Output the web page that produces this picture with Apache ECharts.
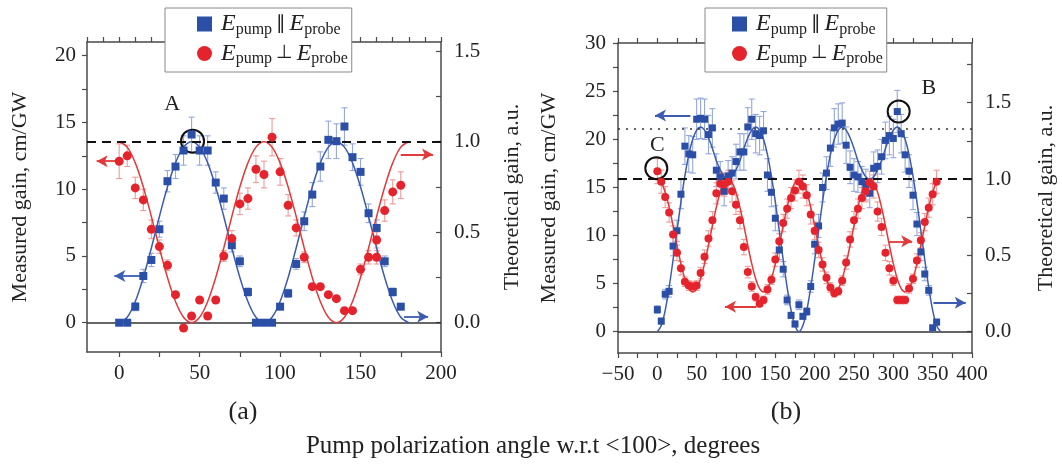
<!DOCTYPE html>
<html><head><meta charset="utf-8">
<script src="https://cdn.jsdelivr.net/npm/echarts@6/dist/echarts.min.js"></script>
<style>html,body{margin:0;padding:0;background:#fff}#c{width:1062px;height:464px}</style>
</head><body><div id="c"></div>
<script>
// ---------- Panel (a) data ----------
const A_ANGLES = [0,5,10,15,20,25,30,35,40,45,50,55,60,65,70,75,80,85,90,95,100,105,110,115,120,125,130,135,140,145,150,155,160,165,170,175];
const A_PAR = [0,0,1.2,3.5,4.7,7.0,10.6,11.7,12.9,14.1,12.9,12.9,10.5,9.3,5.8,4.6,2.3,0,0,0,1.2,2.2,4.4,7.6,9.6,11.7,13.7,13.6,14.7,12.4,11.3,8.2,7.1,4.6,2.3,1.2];
const A_PAR_ERR = [0,0,0.3,0.5,0.5,0.6,0.8,0.9,1.1,1.3,1.1,1.1,0.8,0.8,0.5,0.4,0.3,0,0,0,0.2,0.3,0.4,0.7,0.9,1.1,1.4,1.3,1.4,1.0,1.0,0.7,0.6,0.4,0.3,0.2];
const A_PERP_X = [0,5,10,15,20,25,30,35,40,45,50,55,60,65,70,75,80,85,90,95,100,105,110,115,120,125,130,135,140,145,150,155,160,160,165,170,175];
const A_PERP = [12.1,12.5,10.1,9.2,7.0,5.7,4.3,2.1,-0.4,0.5,1.7,0.5,1.7,5.0,6.3,8.9,9.3,11.5,11.1,13.9,11.3,8.8,7.1,4.9,2.7,2.7,2.1,1.8,0.9,0.9,4.0,4.9,4.9,6.2,8.4,9.8,10.3];
const A_PERP_ERR = [1.3,0.8,0.8,0.8,0.7,0.5,0.4,0,0,0,0,0,0,0.4,0.6,0.8,0.8,1.0,1.0,1.4,1.0,0.8,0.6,0.4,0,0,0,0,0,0,0.4,0.5,0.5,0.6,0.8,0.9,1.0];
const A_TH_X = [0,5,10,15,20,25,30,35,40,45,50,55,60,65,70,75,80,85,90,95,100,105,110,115,120,125,130,135,140,145,150,155,160,165,170,175,180];
const A_TH_PAR = [0,.03,.117,.25,.413,.587,.75,.883,.97,1,.97,.883,.75,.587,.413,.25,.117,.03,0,.03,.117,.25,.413,.587,.75,.883,.97,1,.97,.883,.75,.587,.413,.25,.117,.03,0];
const A_TH_PERP = [1,.97,.883,.75,.587,.413,.25,.117,.03,0,.03,.117,.25,.413,.587,.75,.883,.97,1,.97,.883,.75,.587,.413,.25,.117,.03,0,.03,.117,.25,.413,.587,.75,.883,.97,1];

// ---------- Panel (b) data ----------
const B_ANGLES = [0,5,10,15,20,25,30,35,40,45,50,55,60,65,70,75,80,85,90,95,100,105,110,115,120,125,130,135,140,145,150,155,160,165,170,175,180,185,190,195,200,205,210,215,220,225,230,235,240,245,250,255,260,265,270,275,280,285,290,295,300,305,310,315,320,325,330,335,340,345,350,355];
const B_PAR = [2.3,1.1,3.9,4.2,8.9,10.5,14.3,19.3,18.5,18.4, 22.1,22.2,22.1,20.5,21.2,16.8,16.1,14.6,16.2,16.5, 17.7,18.7,18.7,21.3,22.1,20.6,20.4,20.9,16.3,14.5, 11.8,8.5,6.5,3.3,1.7,0.8,2.8,1.6,2.1,4.7, 9.1,11.0,15.0,16.5,19.1,21.2,21.6,21.7,19.4,17.1, 16.3,16.1,15.6,15.3,14.4,17.0,17.2,18.2,19.9,20.4, 20.1,22.9,20.6,18.4,16.7,14.2,11.2,8.3,6.0,4.3, 0.4,1.0];
const B_PAR_ERR = [0.4,0.3,0.5,0.6,1.0,1.1,1.5,1.9,1.9,1.9, 2.1,2.1,2.1,2.0,2.0,1.7,1.6,1.5,1.6,1.7, 1.8,1.9,1.9,2.0,2.1,2.0,2.0,2.0,1.7,1.5, 1.3,1.0,0.8,0.5,0.3,0.3,0.5,0.3,0.4,0.6, 1.0,1.2,1.5,1.7,1.9,2.0,2.1,2.1,1.9,1.7, 1.7,1.6,1.6,1.6,1.5,1.7,1.7,1.8,1.9,2.0, 2.0,2.2,2.0,1.8,1.7,1.5,1.2,0.9,0.7,0.5, 0.3,0.3];
const B_PERP = [16.7,15.6,14.0,12.4,10.1,8.2,6.6,5.2,4.8,4.7, 4.8,6.1,7.8,9.7,11.6,14.4,15.4,15.3,15.6,14.6, 13.2,11.6,8.8,6.2,4.7,3.6,2.9,3.3,4.4,5.4, 7.5,9.4,11.3,12.8,13.9,14.7,15.6,15.1,14.2,12.2, 10.5,8.5,7.0,5.6,4.6,4.0,4.2,5.3,7.2,9.6, 11.6,12.8,13.9,14.6,15.5,15.1,12.5,10.9,8.2,6.6, 5.3,3.3,3.3,3.3,4.5,5.5,7.4,9.5,11.4,12.9, 14.3,15.6];
const B_PERP_ERR = [1.3,1.2,1.1,1.0,0.9,0.8,0.7,0.5,0.5,0.5, 0.5,0.6,0.7,0.8,0.9,1.1,1.2,1.2,1.2,1.1, 1.0,0.9,0.8,0.6,0.5,0.4,0.3,0.4,0.5,0.5, 0.7,0.8,0.9,1.0,1.1,1.1,1.2,1.2,1.1,1.0, 0.9,0.8,0.7,0.6,0.5,0.4,0.4,0.5,0.7,0.8, 0.9,1.0,1.1,1.1,1.2,1.2,1.0,0.9,0.8,0.7, 0.5,0.4,0.4,0.4,0.5,0.5,0.7,0.8,0.9,1.0, 1.1,1.2];
const B_TH_X = [0,5,10,15,20,25,30,35,40,45,50,55,60,65,70,75,80,85,90,95,100,105,110,115,120,125,130,135,140,145,150,155,160,165,170,175,180,185,190,195,200,205,210,215,220,225,230,235,240,245,250,255,260,265,270,275,280,285,290,295,300,305,310,315,320,325,330,335,340,345,350,355,360];
const B_TH_PAR = [0,.04,.14,.29,.47,.66,.85,1.02,1.16,1.26,1.32,1.34,1.32,1.27,1.2,1.12,1.06,1.015,1.0,1.015,1.06,1.12,1.2,1.27,1.32,1.34,1.32,1.26,1.16,1.02,.85,.66,.47,.29,.14,.04,
  0,.04,.14,.29,.47,.66,.85,1.02,1.16,1.26,1.32,1.34,1.32,1.27,1.2,1.12,1.06,1.015,1.0,1.015,1.06,1.12,1.2,1.27,1.32,1.34,1.32,1.26,1.16,1.02,.85,.66,.47,.29,.14,.04,0];
const B_TH_PERP = [1,.978,.913,.815,.694,.566,.445,.347,.282,.26,.282,.347,.445,.566,.694,.815,.913,.978,
  1,.978,.913,.815,.694,.566,.445,.347,.282,.26,.282,.347,.445,.566,.694,.815,.913,.978,
  1,.978,.913,.815,.694,.566,.445,.347,.282,.26,.282,.347,.445,.566,.694,.815,.913,.978,
  1,.978,.913,.815,.694,.566,.445,.347,.282,.26,.282,.347,.445,.566,.694,.815,.913,.978,1];

// ---------- tick values ----------
const A_X_LABELS = [0,50,100,150,200];
const A_X_TICKS = [0,25,50,75,100,125,150,175,200];
const A_X_TOP_TICKS = [-20,-10,0,10,20,30,40,50,60,70,80,90,100,110,120,130,140,150,160,170,180,190,200];
const A_Y_LABELS = [0,5,10,15,20];
const A_Y_TICKS = [0,2.5,5,7.5,10,12.5,15,17.5,20];
const A_Y2_LABELS = [0,0.5,1.0,1.5];
const A_Y2_TICKS = [0,0.25,0.5,0.75,1.0,1.25,1.5];
const B_X_LABELS = [-50,0,50,100,150,200,250,300,350,400];
const B_X_TICKS = [-50,-25,0,25,50,75,100,125,150,175,200,225,250,275,300,325,350,375,400];
const B_Y_LABELS = [0,5,10,15,20,25,30];
const B_Y_TICKS = [0,2.5,5,7.5,10,12.5,15,17.5,20,22.5,25,27.5,30];
const B_Y2_LABELS = [0,0.5,1.0,1.5];
const B_Y2_TICKS = [0,0.25,0.5,0.75,1.0,1.25,1.5,1.75];

const SERIF = '"Liberation Serif","DejaVu Serif",serif';
const BLUE = '#2b4ea6', BLUE_LINE = '#3c5cb2', BLUE_ERR = '#94a8da';
const RED = '#e5232c', RED_LINE = '#e23a3a', RED_ERR = '#f09a9a';
const AXIS_C = '#4a4a4a', TXT = '#222';

function pairs(xs, ys){ return xs.map((x,i)=>[x, ys[i]]); }
function errSeries(xs, ys, es, xi, yi, color){
  return {type:'custom', xAxisIndex:xi, yAxisIndex:yi, silent:true, z:2,
    data: xs.map((x,i)=>[x, ys[i], es[i]]),
    renderItem:(params, api)=>{
      const x=api.value(0), y=api.value(1), e=api.value(2);
      if(!e) return null;
      const t=api.coord([x,y+e]), b=api.coord([x,y-e]), w=3;
      const st={stroke:color, lineWidth:1.1};
      return {type:'group', children:[
        {type:'line', shape:{x1:t[0],y1:t[1],x2:b[0],y2:b[1]}, style:st},
        {type:'line', shape:{x1:t[0]-w,y1:t[1],x2:t[0]+w,y2:t[1]}, style:st},
        {type:'line', shape:{x1:b[0]-w,y1:b[1],x2:b[0]+w,y2:b[1]}, style:st}
      ]};
    }};
}
function arrow(x1,y1,x2,y2,color){
  return [{coord:[x1,y1], symbol:'none', lineStyle:{color, width:1.8, type:'solid'}},{coord:[x2,y2], symbol:'arrow', symbolSize:[9,11]}];
}
function ring(x,y,size){
  return {coord:[x,y], symbol:'circle', symbolSize:size, itemStyle:{color:'rgba(0,0,0,0)', borderColor:'#111', borderWidth:2}, label:{show:false}};
}
function letter(x,y,t){
  return {coord:[x,y], symbol:'circle', symbolSize:1, itemStyle:{color:'rgba(0,0,0,0)'},
    label:{show:true, position:'inside', formatter:t, fontFamily:SERIF, fontSize:22, color:TXT}};
}
const axisTxt = {fontFamily:SERIF, fontSize:21, color:TXT};
function xAx(grid, min, max, labels, ticks, pos, showLabels){
  return {type:'value', gridIndex:grid, min, max, position:pos,
    axisLine:{show:true, onZero:false, lineStyle:{color:AXIS_C, width:1.5}},
    axisTick:{show:true, inside:false, length:5, customValues:ticks, lineStyle:{color:AXIS_C, width:1.2}},
    axisLabel:{show:showLabels, customValues:labels, margin:11, ...axisTxt,
      formatter:v=> v<0 ? '\u2212'+Math.abs(v) : String(v)},
    splitLine:{show:false}};
}
function yAx(grid, min, max, labels, ticks, pos, inside, fmt, margin){
  return {type:'value', gridIndex:grid, min, max, position:pos,
    axisLine:{show:true, onZero:false, lineStyle:{color:AXIS_C, width:1.5}},
    axisTick:{show:true, inside, length:5, customValues:ticks, lineStyle:{color:AXIS_C, width:1.2}},
    axisLabel:{show:true, customValues:labels, margin, ...axisTxt, formatter:fmt},
    splitLine:{show:false}};
}
const richLegend = {
  g:{width:4},
  e:{fontFamily:SERIF, fontStyle:'italic', fontSize:24, color:TXT},
  s:{fontFamily:SERIF, fontSize:16, color:TXT, padding:[11,0,0,0]},
  o:{fontFamily:'"DejaVu Sans",sans-serif', fontSize:19, color:TXT, padding:[0,4,0,4]}
};
function legendFmt(n){
  return n==='par' ? '{g|}{e|E}{s|pump}{o|\u2225}{e|E}{s|probe}' : '{g|}{e|E}{s|pump}{o|\u22A5}{e|E}{s|probe}';
}
function mkLegend(left, padL){
  return {left, top:8, orient:'vertical', selectedMode:false,
    data:[{name:'par', icon:'rect'},{name:'perp', icon:'circle'}],
    itemWidth:15, itemHeight:15, itemGap:4, padding:[4,4,5,padL],
    backgroundColor:'#fff', borderColor:'#888', borderWidth:1,
    formatter:legendFmt, textStyle:{rich:richLegend, fontFamily:SERIF, fontSize:22, color:TXT}};
}

const option = {
  animation:false, backgroundColor:'#fff',
  grid:[
    {left:87, top:42, width:354, height:310, show:false},
    {left:618, top:43, width:354, height:310, show:false}
  ],
  xAxis:[
    xAx(0,-20,200,A_X_LABELS,A_X_TICKS,'bottom',true),
    xAx(0,-20,200,[],A_X_TOP_TICKS,'top',false),
    xAx(1,-50,400,B_X_LABELS,B_X_TICKS,'bottom',true),
    xAx(1,-50,400,[],B_X_TICKS,'top',false)
  ],
  yAxis:[
    yAx(0,-2.195,21.03,A_Y_LABELS,A_Y_TICKS,'left',false,v=>String(v),11),
    yAx(0,-0.1619,1.5508,A_Y2_LABELS,A_Y2_TICKS,'right',true,v=>v.toFixed(1),13),
    yAx(1,-2.216,30.03,B_Y_LABELS,B_Y_TICKS,'left',false,v=>String(v),12),
    yAx(1,-0.1395,1.8906,B_Y2_LABELS,B_Y2_TICKS,'right',true,v=>v.toFixed(1),13)
  ],
  legend:[mkLegend(165,32), mkLegend(705,27)],
  series:[
    // ---- panel (a) ----
    {type:'line', name:'thA_par', xAxisIndex:0, yAxisIndex:1, data:pairs(A_TH_X,A_TH_PAR), smooth:0.35, showSymbol:false, lineStyle:{color:BLUE_LINE, width:1.5}, z:3,
      markLine:{silent:true, symbol:'none', label:{show:false},
        data:[[{coord:[-20,1.0], lineStyle:{color:'#111', width:2, type:[9,6]}},{coord:[200,1.0]}]]}},
    {type:'line', name:'thA_perp', xAxisIndex:0, yAxisIndex:1, data:pairs(A_TH_X,A_TH_PERP), smooth:0.35, showSymbol:false, lineStyle:{color:RED_LINE, width:1.5}, z:3},
    errSeries(A_ANGLES,A_PAR,A_PAR_ERR,0,0,BLUE_ERR),
    errSeries(A_PERP_X,A_PERP,A_PERP_ERR,0,0,RED_ERR),
    {type:'scatter', name:'par', xAxisIndex:0, yAxisIndex:0, data:pairs(A_ANGLES,A_PAR), symbol:'rect', symbolSize:8, itemStyle:{color:BLUE, opacity:1}, z:5,
      markLine:{silent:true, symbol:'none', label:{show:false}, z:1,
        data:[
          [{coord:[-20,0], lineStyle:{color:'#333', width:1.5, type:'solid'}},{coord:[200,0]}],
          arrow(15,3.5,-3,3.5,BLUE_LINE),
          arrow(177,0.45,192,0.45,BLUE_LINE),
          arrow(-1,12.1,-14,12.1,RED_LINE),
          arrow(175,12.6,195,12.6,RED_LINE)
        ]},
      markPoint:{silent:true, data:[ring(45.6,13.6,23), letter(32.9,16.4,'A')]}},
    {type:'scatter', name:'perp', xAxisIndex:0, yAxisIndex:0, data:pairs(A_PERP_X,A_PERP), symbol:'circle', symbolSize:9, itemStyle:{color:RED, opacity:1}, z:5},
    // ---- panel (b) ----
    {type:'line', name:'thB_par', xAxisIndex:2, yAxisIndex:3, data:pairs(B_TH_X,B_TH_PAR), smooth:0.35, showSymbol:false, lineStyle:{color:BLUE_LINE, width:1.5}, z:3,
      markLine:{silent:true, symbol:'none', label:{show:false},
        data:[
          [{coord:[-50,1.0], lineStyle:{color:'#111', width:2, type:[9,6]}},{coord:[400,1.0]}],
          [{coord:[-50,1.332], lineStyle:{color:'#333', width:1.5, type:[2,6]}},{coord:[400,1.332]}]
        ]}},
    {type:'line', name:'thB_perp', xAxisIndex:2, yAxisIndex:3, data:pairs(B_TH_X,B_TH_PERP), smooth:0.35, showSymbol:false, lineStyle:{color:RED_LINE, width:1.5}, z:3},
    errSeries(B_ANGLES,B_PAR,B_PAR_ERR,2,2,BLUE_ERR),
    errSeries(B_ANGLES,B_PERP,B_PERP_ERR,2,2,RED_ERR),
    {type:'scatter', name:'par', xAxisIndex:2, yAxisIndex:2, data:pairs(B_ANGLES,B_PAR), symbol:'rect', symbolSize:7, itemStyle:{color:BLUE, opacity:1}, z:5,
      markLine:{silent:true, symbol:'none', label:{show:false}, z:1,
        data:[
          [{coord:[-50,0], lineStyle:{color:'#333', width:1.5, type:'solid'}},{coord:[400,0]}],
          arrow(42,22.5,-3,22.5,BLUE_LINE),
          arrow(351,3.0,392,3.0,BLUE_LINE),
          arrow(126,2.6,86,2.6,RED_LINE),
          arrow(294,9.4,324,9.4,RED_LINE)
        ]},
      markPoint:{silent:true, data:[ring(306.8,22.9,22), ring(-1.3,17.0,22), letter(345,25.35,'B'), letter(0,19.4,'C')]}},
    {type:'scatter', name:'perp', xAxisIndex:2, yAxisIndex:2, data:pairs(B_ANGLES,B_PERP), symbol:'circle', symbolSize:8, itemStyle:{color:RED, opacity:1}, z:5}
  ],
  graphic:[
    {type:'text', x:20, y:197, rotation:Math.PI/2, style:{text:'Measured gain, cm/GW', font:'22px '+SERIF, fill:TXT, align:'center', verticalAlign:'middle'}},
    {type:'text', x:512, y:197, rotation:Math.PI/2, style:{text:'Theoretical gain, a.u.', font:'22px '+SERIF, fill:TXT, align:'center', verticalAlign:'middle'}},
    {type:'text', x:549, y:198, rotation:Math.PI/2, style:{text:'Measured gain, cm/GW', font:'22px '+SERIF, fill:TXT, align:'center', verticalAlign:'middle'}},
    {type:'text', x:1046, y:198, rotation:Math.PI/2, style:{text:'Theoretical gain, a.u.', font:'22px '+SERIF, fill:TXT, align:'center', verticalAlign:'middle'}},
    {type:'text', x:243, y:412, style:{text:'(a)', font:'26px '+SERIF, fill:TXT, align:'center', verticalAlign:'middle'}},
    {type:'text', x:786, y:412, style:{text:'(b)', font:'26px '+SERIF, fill:TXT, align:'center', verticalAlign:'middle'}},
    {type:'text', x:533, y:446, style:{text:'Pump polarization angle w.r.t <100>, degrees', font:'25px '+SERIF, fill:TXT, align:'center', verticalAlign:'middle'}}
  ]
};
const chart = echarts.init(document.getElementById('c'), null, {renderer:'canvas'});
chart.setOption(option);
</script></body></html>
